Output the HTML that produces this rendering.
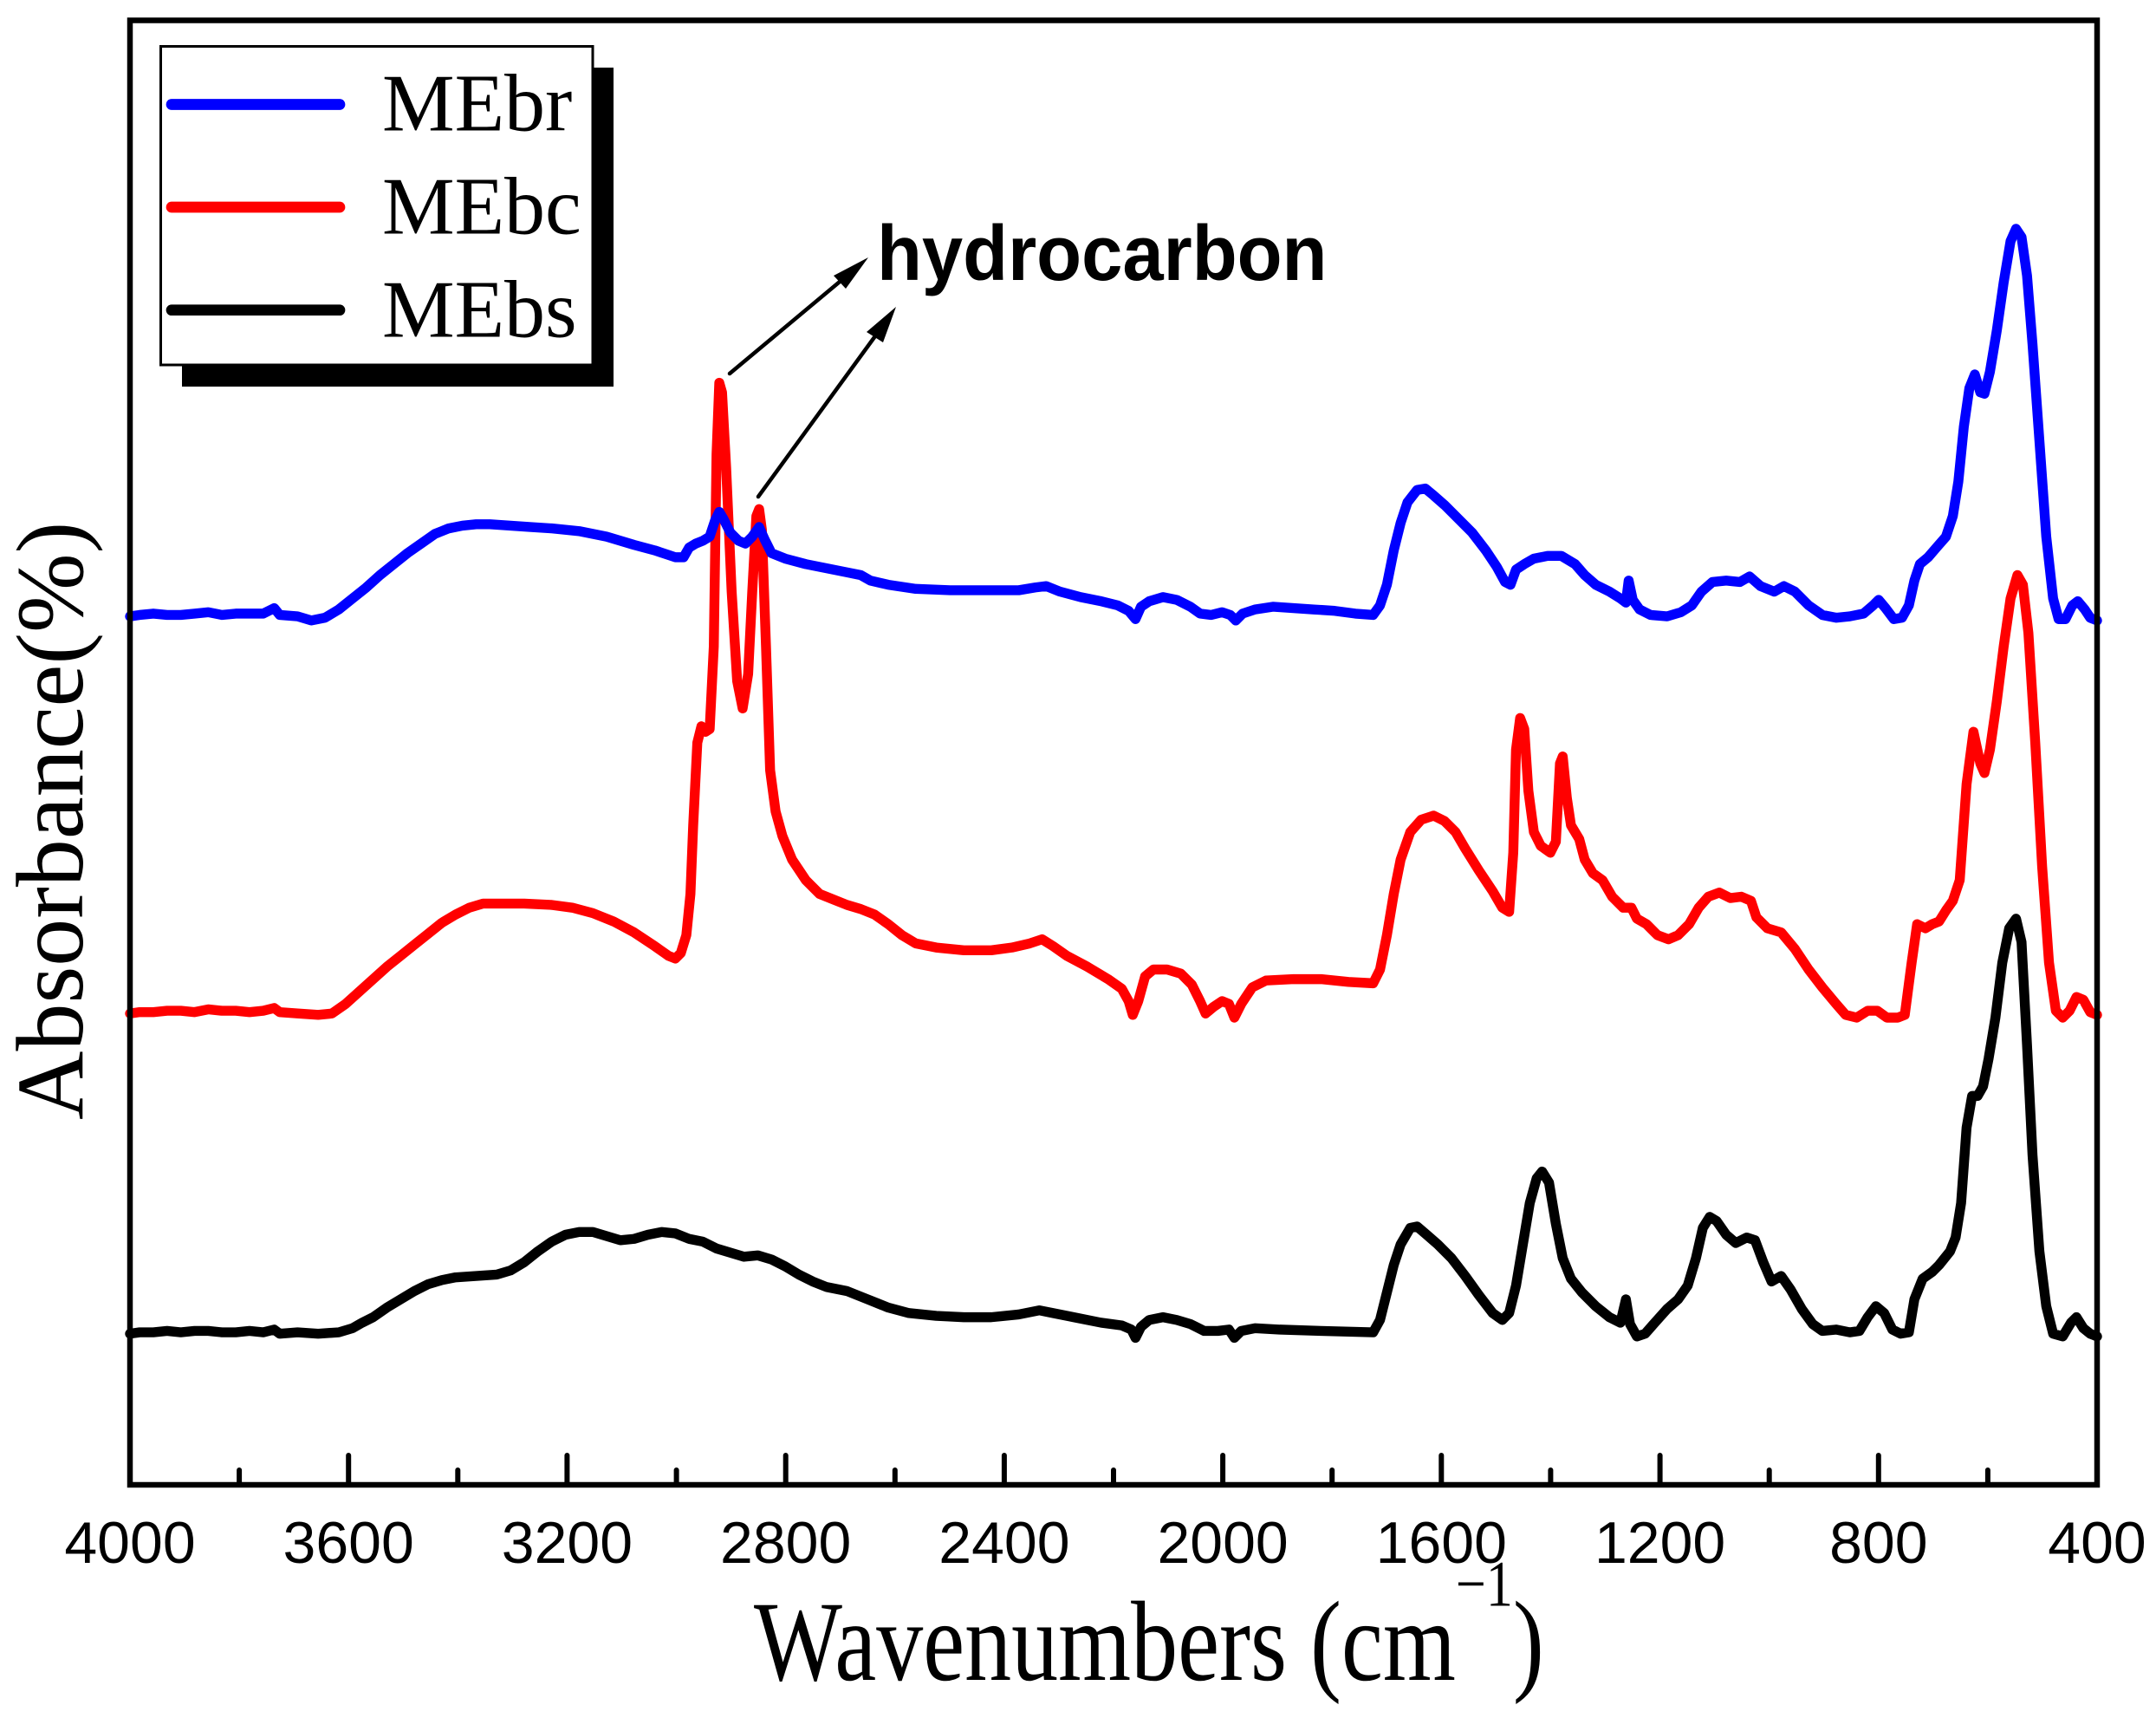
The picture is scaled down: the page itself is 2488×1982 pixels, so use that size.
<!DOCTYPE html>
<html>
<head>
<meta charset="utf-8">
<style>
html,body{margin:0;padding:0;background:#fff;}
svg{display:block;}
</style>
</head>
<body>
<svg xmlns="http://www.w3.org/2000/svg" width="2488" height="1982" viewBox="0 0 2488 1982">
<rect x="0" y="0" width="2488" height="1982" fill="#fff"/>

<!-- curves (traced in display units, mapped to pixel coords) -->
<g transform="translate(150,23) scale(1.5852,1.5854) translate(-93,-14)" fill="none" stroke-width="7.2" stroke-linejoin="round" stroke-linecap="round">
<!-- MEbs black -->
<polyline stroke="#000" points="93,970 100,969 110,969 120,968 130,969 140,968 150,968 160,969 170,969 180,968 190,969 198,967 202,970 215,969 230,970 245,969 255,966 262,962 270,958 280,951 290,945 300,939 310,934 320,931 330,929 345,928 360,927 370,924 380,918 390,910 400,903 410,898 420,896 430,896 440,899 450,902 460,901 470,898 480,896 490,897 500,901 510,903 520,908 530,911 540,914 550,913 560,916 570,921 580,927 590,932 600,936 615,939 630,945 645,951 660,955 680,957 700,958 720,958 740,956 755,953 765,955 780,958 800,962 815,964 822,967 825,973 829,965 835,960 845,958 855,960 865,963 875,968 885,968 893,967 897,973 902,968 912,966 930,967 960,968 998,969 1003,960 1008,940 1013,920 1018,905 1025,893 1030,892 1037,898 1045,905 1055,915 1065,928 1075,942 1085,955 1092,960 1097,955 1102,935 1107,905 1112,875 1117,857 1121,852 1126,860 1131,890 1136,915 1142,930 1150,940 1160,950 1170,958 1178,962 1182,945 1185,963 1190,972 1196,970 1203,962 1212,952 1220,945 1227,935 1233,915 1238,893 1243,885 1248,888 1255,898 1262,904 1270,900 1276,902 1282,918 1288,932 1295,928 1302,938 1310,952 1318,963 1325,968 1335,967 1345,969 1352,968 1358,958 1364,950 1370,955 1376,967 1382,970 1388,969 1392,945 1398,930 1405,925 1410,920 1418,910 1422,900 1426,875 1430,820 1434,797 1438,797 1442,790 1446,770 1451,740 1456,700 1461,675 1466,668 1470,685 1474,760 1478,840 1483,910 1488,950 1493,970 1500,972 1506,962 1510,958 1515,966 1520,970 1525,972"/>
<!-- MEbc red -->
<polyline stroke="#ff0000" points="93,737 100,736 110,736 120,735 130,735 140,736 150,734 160,735 170,735 180,736 190,735 198,733 202,736 215,737 230,738 240,737 250,730 260,721 270,712 280,703 290,695 300,687 310,679 320,671 330,665 340,660 350,657 360,657 380,657 400,658 415,660 430,664 445,670 460,678 475,688 485,695 490,697 494,693 498,680 501,650 503,600 506,540 509,528 512,532 515,530 518,470 520,330 522,278 524,285 527,340 531,430 535,495 539,515 543,490 546,430 549,375 551,370 553,385 556,470 559,560 563,590 568,608 575,625 585,640 595,650 605,654 615,658 625,661 635,665 645,672 655,680 665,686 680,689 700,691 720,691 735,689 748,686 757,683 765,688 775,695 790,703 805,712 815,719 820,728 823,738 827,728 832,710 838,705 848,705 858,708 866,716 872,728 876,737 882,732 888,728 893,730 897,740 902,730 910,718 920,713 940,712 960,712 980,714 998,715 1003,705 1008,680 1013,650 1018,625 1025,605 1033,596 1042,593 1050,597 1058,605 1065,617 1075,633 1085,648 1092,660 1097,663 1100,620 1102,545 1105,522 1108,530 1111,575 1115,605 1120,615 1127,620 1131,612 1134,555 1136,550 1139,580 1142,600 1148,610 1152,625 1158,635 1165,640 1172,652 1180,660 1186,660 1190,668 1197,672 1205,680 1213,683 1220,680 1228,672 1235,660 1242,652 1250,649 1258,653 1266,652 1273,655 1277,667 1285,675 1295,678 1305,690 1315,705 1325,718 1335,730 1342,738 1350,740 1358,735 1365,735 1372,740 1380,740 1385,738 1390,700 1394,672 1400,675 1405,672 1410,670 1415,662 1420,655 1425,640 1430,570 1435,532 1440,555 1443,562 1447,545 1452,510 1457,470 1462,435 1467,418 1471,425 1475,460 1480,540 1485,630 1490,700 1495,735 1500,740 1505,735 1510,725 1515,727 1520,736 1525,738"/>
<!-- MEbr blue -->
<polyline stroke="#0000ff" points="93,448 100,447 110,446 120,447 130,447 140,446 150,445 160,447 170,446 180,446 190,446 198,442 202,447 215,448 225,451 235,449 245,443 255,435 265,427 275,418 285,410 295,402 305,395 315,388 325,384 335,382 345,381 355,381 370,382 385,383 400,384 420,386 440,390 460,396 475,400 490,405 496,405 500,398 505,395 510,393 515,390 519,378 522,372 525,377 530,387 536,393 541,395 546,390 551,383 555,392 560,402 570,406 585,410 600,413 615,416 625,418 632,422 645,425 665,428 690,429 720,429 740,429 752,427 760,426 770,430 785,434 800,437 812,440 820,444 825,450 829,441 835,437 845,434 855,436 865,441 872,446 880,447 888,445 894,447 898,451 903,446 912,443 925,441 940,442 955,443 970,444 985,446 998,447 1003,440 1008,425 1013,400 1018,380 1023,365 1030,356 1036,355 1042,360 1050,367 1060,377 1070,387 1080,400 1088,412 1094,423 1098,425 1102,414 1108,410 1115,406 1125,404 1135,404 1145,410 1152,418 1160,425 1170,430 1178,435 1182,438 1184,422 1187,436 1192,443 1200,447 1212,448 1222,445 1230,440 1237,430 1245,423 1255,422 1265,423 1272,419 1280,426 1290,430 1297,426 1305,430 1315,440 1325,447 1335,449 1345,448 1355,446 1362,440 1366,436 1371,442 1377,450 1383,449 1388,440 1392,422 1396,410 1402,405 1408,398 1415,390 1420,375 1424,350 1428,310 1432,282 1436,272 1440,285 1443,286 1447,270 1452,240 1457,205 1462,175 1466,166 1470,172 1474,200 1478,250 1483,320 1488,390 1493,435 1497,450 1502,450 1507,440 1511,437 1516,443 1520,449 1525,451"/>
</g>

<!-- frame -->
<rect x="150" y="23.5" width="2270" height="1689.5" fill="none" stroke="#000" stroke-width="6.5"/>

<!-- ticks -->
<g stroke="#000" stroke-width="6" stroke-linecap="round">
<line x1="402.2" y1="1713" x2="402.2" y2="1679"/>
<line x1="654.4" y1="1713" x2="654.4" y2="1679"/>
<line x1="906.7" y1="1713" x2="906.7" y2="1679"/>
<line x1="1158.9" y1="1713" x2="1158.9" y2="1679"/>
<line x1="1411.1" y1="1713" x2="1411.1" y2="1679"/>
<line x1="1663.3" y1="1713" x2="1663.3" y2="1679"/>
<line x1="1915.6" y1="1713" x2="1915.6" y2="1679"/>
<line x1="2167.8" y1="1713" x2="2167.8" y2="1679"/>
<line x1="276.1" y1="1713" x2="276.1" y2="1696"/>
<line x1="528.3" y1="1713" x2="528.3" y2="1696"/>
<line x1="780.6" y1="1713" x2="780.6" y2="1696"/>
<line x1="1032.8" y1="1713" x2="1032.8" y2="1696"/>
<line x1="1285" y1="1713" x2="1285" y2="1696"/>
<line x1="1537.2" y1="1713" x2="1537.2" y2="1696"/>
<line x1="1789.4" y1="1713" x2="1789.4" y2="1696"/>
<line x1="2041.7" y1="1713" x2="2041.7" y2="1696"/>
<line x1="2293.9" y1="1713" x2="2293.9" y2="1696"/>
</g>

<!-- tick labels -->
<g font-family="'Liberation Sans', Arial, sans-serif" font-size="68" fill="#000" text-anchor="middle">
<text x="150" y="1803">4000</text>
<text x="402.2" y="1803">3600</text>
<text x="654.4" y="1803">3200</text>
<text x="906.7" y="1803">2800</text>
<text x="1158.9" y="1803">2400</text>
<text x="1411.1" y="1803">2000</text>
<text x="1663.3" y="1803">1600</text>
<text x="1915.6" y="1803">1200</text>
<text x="2167.8" y="1803">800</text>
<text x="2420" y="1803">400</text>
</g>

<!-- axis titles -->
<text transform="translate(870,1938) scale(1,1.22)" x="0" y="0" font-family="'Liberation Serif', 'Times New Roman', serif" font-size="108" fill="#000">Wavenumbers (cm<tspan font-size="62" dy="-70">−1</tspan><tspan dy="70">)</tspan></text>
<text transform="translate(95,1292) rotate(-90)" x="0" y="0" font-family="'Liberation Serif', 'Times New Roman', serif" font-size="110" fill="#000">Absorbance(%)</text>

<!-- legend -->
<rect x="210" y="78" width="498" height="368" fill="#000"/>
<rect x="185.5" y="53.5" width="498.5" height="367.5" fill="#fff" stroke="#000" stroke-width="3"/>
<g stroke-width="12.7" stroke-linecap="round">
<line x1="198" y1="120.5" x2="392" y2="120.5" stroke="#0000ff"/>
<line x1="198" y1="239" x2="392" y2="239" stroke="#ff0000"/>
<line x1="198" y1="357.7" x2="392" y2="357.7" stroke="#000"/>
</g>
<g font-family="'Liberation Serif', 'Times New Roman', serif" font-size="94" fill="#000">
<text x="441" y="150.7">MEbr</text>
<text x="441" y="269.6">MEbc</text>
<text x="441" y="388.5">MEbs</text>
</g>

<!-- annotation -->
<g stroke="#000" stroke-width="4.5" stroke-linecap="round">
<line x1="842" y1="431" x2="975" y2="320"/>
<line x1="875" y1="573" x2="1012" y2="385"/>
</g>
<polygon points="1002,297 962,318 976,333" fill="#000"/>
<polygon points="1034,354 1000,383 1019,395" fill="#000"/>
<text transform="translate(1012,323) scale(1,1.06)" x="0" y="0" font-family="'Liberation Sans', Arial, sans-serif" font-weight="bold" font-size="85" fill="#000">hydrocarbon</text>
</svg>
</body>
</html>
